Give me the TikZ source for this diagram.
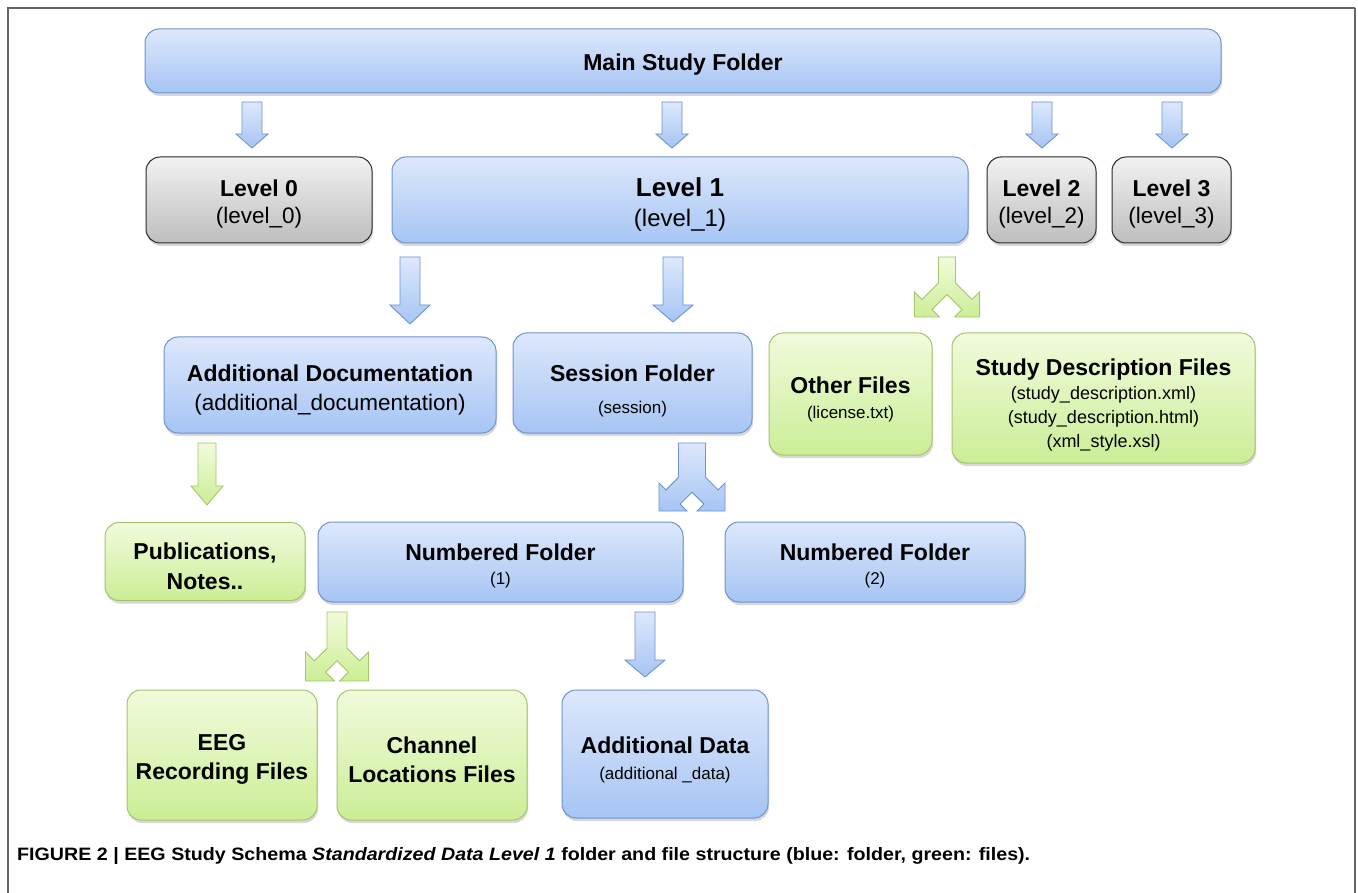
\documentclass[tikz,border=0pt]{standalone}
\usepackage{fontspec}
\setmainfont{Liberation Sans}
\usepackage{graphicx}
\usetikzlibrary{shadows}
\definecolor{bluetop}{HTML}{DDE8FC}
\definecolor{bluebot}{HTML}{A6C5F4}
\definecolor{bluedraw}{HTML}{6F93CE}
\definecolor{graytop}{HTML}{F2F2F2}
\definecolor{graybot}{HTML}{BEBEBE}
\definecolor{graydraw}{HTML}{2A2A2A}
\definecolor{greentop}{HTML}{F1FBDC}
\definecolor{greenbot}{HTML}{CBEE96}
\definecolor{greendraw}{HTML}{A6C46A}
\definecolor{framegray}{HTML}{666666}
\newcommand\myTitle{\fontsize{23}{27}\selectfont\bfseries}
\newcommand\mySub{\fontsize{22.5}{27}\selectfont}
\newcommand\myMid{\fontsize{18}{24}\selectfont}
\newcommand\mySmall{\fontsize{17}{22}\selectfont}
\newcommand\lsp[1]{\fontsize{23}{#1}\selectfont}
\newcommand\dnarrow[7]{% cx, top, headtop, tip, stem half, head half, style
  \draw[#7] ({#1-#5},#2) -- ({#1+#5},#2) -- ({#1+#5},#3) -- ({#1+#6},#3) -- (#1,#4)
    -- ({#1-#6},#3) -- ({#1-#5},#3) -- cycle;}
\newcommand\splitarrow[8]{% cx, top, s, a, h, L, style, arm half width
  \pgfmathsetmacro\sd{#8/sqrt(2)}%
  \pgfmathsetmacro\ox{#4-#6/2+\sd}%
  \pgfmathsetmacro\oy{#5-#6/2-\sd}%
  \pgfmathsetmacro\ya{\oy-(\ox-#3)}%
  \pgfmathsetmacro\ix{#4-#6/2-\sd}%
  \pgfmathsetmacro\iy{#5-#6/2+\sd}%
  \pgfmathsetmacro\yb{\iy-\ix}%
  \pgfmathsetmacro\hw{#5-#6}%
  \pgfmathsetmacro\hx{#4-#6}%
  \begin{scope}[shift={(#1,#2)}]
    \draw[#7] (-#3,0) -- (#3,0) -- (#3,\ya) -- (\ox,\oy) -- (#4,\hw) -- (#4,#5) -- (\hx,#5)
      -- (\ix,\iy) -- (0,\yb) -- (-\ix,\iy) -- (-\hx,#5) -- (-#4,#5) -- (-#4,\hw)
      -- (-\ox,\oy) -- (-#3,\ya) -- cycle;
  \end{scope}}
\tikzset{
  box/.style={rounded corners=14pt, line width=1pt, inner sep=0pt,
    drop shadow={opacity=0.3, shadow xshift=1pt, shadow yshift=-3pt}},
  bluebox/.style={box, draw=bluedraw, top color=bluetop, bottom color=bluebot},
  graybox/.style={box, draw=graydraw, top color=graytop, bottom color=graybot},
  greenbox/.style={box, draw=greendraw, top color=greentop, bottom color=greenbot},
  txt/.style={align=center, inner sep=0pt, font=\lsp{#1}},
  txt/.default=27,
  bluearrow/.style={draw=bluedraw, line width=0.9pt, top color=bluetop, bottom color=bluebot, line join=miter},
  greenarrow/.style={draw=greendraw, line width=0.9pt, top color=greentop, bottom color=greenbot, line join=miter},
  frameline/.style={draw=framegray}
}
\begin{document}
\begin{tikzpicture}[x=1pt,y=-1pt]
\useasboundingbox (0,0) rectangle (1358,893);
\fill[white] (0,0) rectangle (1358,893);
% frame
\draw[frameline, line width=1.3pt] (8,893) -- (8,8) -- (1355,8);
\draw[frameline, line width=2.2pt] (1355,8) -- (1355,893);

% boxes
\node[bluebox, minimum width=1076pt, minimum height=64pt] (main) at (683,61) {};
\node[graybox, minimum width=226pt, minimum height=86pt] (l0) at (259,200) {};
\node[bluebox, minimum width=576pt, minimum height=86pt] (l1) at (680,200) {};
\node[graybox, minimum width=109pt, minimum height=86pt] (l2) at (1041.5,200) {};
\node[graybox, minimum width=119pt, minimum height=86pt] (l3) at (1171.5,200) {};
\node[bluebox, minimum width=332pt, minimum height=96pt] (adddoc) at (330,385) {};
\node[bluebox, minimum width=239pt, minimum height=100pt] (session) at (632.5,383) {};
\node[greenbox, minimum width=163pt, minimum height=122pt] (other) at (850.5,394) {};
\node[greenbox, minimum width=303pt, minimum height=130pt] (study) at (1103.5,398) {};
\node[greenbox, minimum width=200pt, minimum height=78pt] (pub) at (205,561.5) {};
\node[bluebox, minimum width=365pt, minimum height=80pt] (nf1) at (500.5,562) {};
\node[bluebox, minimum width=300pt, minimum height=80pt] (nf2) at (875,562) {};
\node[greenbox, minimum width=190pt, minimum height=130pt] (eeg) at (222,755) {};
\node[greenbox, minimum width=190pt, minimum height=130pt] (chan) at (432,755) {};
\node[bluebox, minimum width=206pt, minimum height=128pt] (adddata) at (665,754) {};

% texts
\node[txt] (maint) at (683,65) {\myTitle Main Study Folder};
\node[txt=27] (l0t) at (259,203.5) {{\myTitle Level 0}\\{\mySub (level\_0)}};
\node[txt=30] (l1t) at (680,205) {{\fontsize{26}{30}\selectfont\bfseries Level 1}\\{\fontsize{24}{29}\selectfont (level\_1)}};
\node[txt=27] (l2t) at (1041.5,203.5) {{\myTitle Level 2}\\{\mySub (level\_2)}};
\node[txt=27] (l3t) at (1171.5,203.5) {{\myTitle Level 3}\\{\mySub (level\_3)}};
\node[txt=29] (adddoct) at (330,389.5) {{\myTitle Additional Documentation}\\{\mySub (additional\_documentation)}};
\node[txt=32] (sessiont) at (632.5,391) {{\myTitle Session Folder}\\{\mySmall (session)}};
\node[txt=25] (othert) at (850.5,399.5) {{\myTitle Other Files}\\{\mySmall (license.txt)}};
\node[txt=24] (studyt) at (1103.5,405) {{\myTitle Study Description Files}\\{\myMid (study\_description.xml)}\\{\myMid (study\_description.html)}\\{\myMid (xml\_style.xsl)}};
\node[txt=30] (pubt) at (205,566) {{\myTitle Publications,}\\{\myTitle Notes..}};
\node[txt=24] (nf1t) at (500.5,566) {{\myTitle Numbered Folder}\\{\mySmall (1)}};
\node[txt=24] (nf2t) at (875,566) {{\myTitle Numbered Folder}\\{\mySmall (2)}};
\node[txt=29] (eegt) at (222,759.5) {{\myTitle EEG}\\{\myTitle Recording Files}};
\node[txt=29] (chant) at (432,759.5) {{\myTitle Channel}\\{\myTitle Locations Files}};
\node[txt=26] (adddatat) at (665,760) {{\myTitle Additional Data}\\{\mySmall (additional \_data)}};

% arrows from main folder
\dnarrow{252}{102}{134}{148}{10}{16}{bluearrow}
\dnarrow{672}{102}{134}{148}{10}{16}{bluearrow}
\dnarrow{1042}{102}{134}{148}{10}{16}{bluearrow}
\dnarrow{1172}{102}{134}{148}{10}{16}{bluearrow}
% arrows from level 1
\dnarrow{410}{257}{305}{324}{10}{20}{bluearrow}
\dnarrow{673}{257}{305}{322}{10}{20}{bluearrow}
\splitarrow{947}{257}{8.5}{32.5}{60}{25}{greenarrow}{7}
% arrows from additional documentation and session
\dnarrow{207}{443}{486}{505}{9}{16}{greenarrow}
\splitarrow{692}{443}{13.5}{33}{68}{28}{bluearrow}{10}
% arrows from numbered folder
\splitarrow{337}{612}{10}{31.5}{69}{29}{greenarrow}{8}
\dnarrow{645}{612}{660}{677}{10}{20}{bluearrow}

% caption
\node[anchor=base west, inner sep=0pt] (caption) at (17,860) {\resizebox{1013pt}{13pt}{\fontsize{18}{20}\selectfont\bfseries FIGURE 2 | EEG Study Schema {\itshape Standardized Data Level 1} folder and file structure (blue: folder, green: files).}};
\end{tikzpicture}
\end{document}
